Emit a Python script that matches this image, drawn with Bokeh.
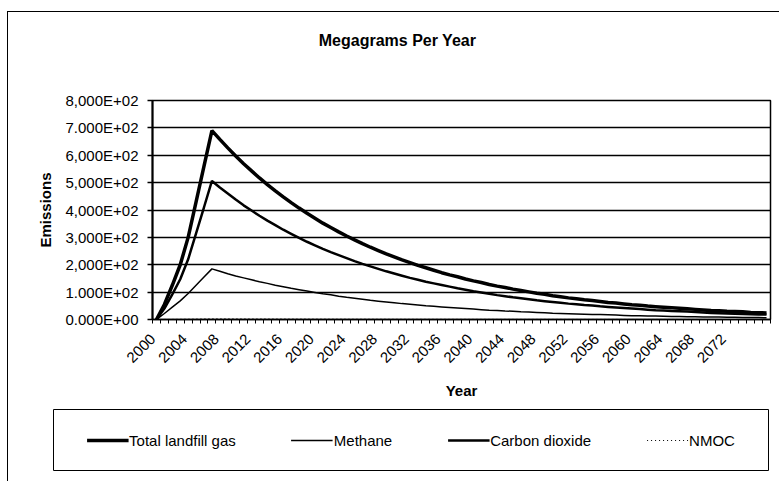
from bokeh.plotting import figure
from bokeh.models import FixedTicker, Legend, LegendItem, Range1d, ColumnDataSource, Label
from bokeh.layouts import column
from bokeh.embed import file_html
from bokeh.resources import INLINE
from math import pi

# ---------------- data ----------------
years = list(range(2000, 2078))

total_landfill_gas = [0, 55, 125, 200, 300, 430, 560, 690,
    658, 627, 597, 569, 543, 517, 493, 470, 448, 427,
    407, 388, 370, 352, 336, 320, 305, 291, 277, 264,
    252, 240, 229, 218, 208, 198, 189, 180, 171, 163,
    156, 148, 141, 135, 128, 122, 117, 111, 106, 101,
    96, 92, 87, 83, 79, 76, 72, 69, 66, 62,
    60, 57, 54, 52, 49, 47, 45, 43, 41, 39,
    37, 35, 33, 32, 30, 29, 28, 26, 25, 24]

methane = [0, 22, 45, 68, 95, 125, 155, 185,
    176, 167, 159, 152, 145, 138, 132, 125, 120, 114,
    109, 104, 99, 94, 90, 85, 81, 78, 74, 70,
    67, 64, 61, 58, 56, 53, 50, 48, 46, 44,
    42, 40, 38, 36, 34, 33, 31, 30, 28, 27,
    26, 25, 23, 22, 21, 20, 19, 18, 18, 17,
    16, 15, 14, 14, 13, 13, 12, 11, 11, 10,
    10, 9, 9, 9, 8, 8, 7, 7, 7, 6]

carbon_dioxide = [0, 40, 92, 147, 220, 315, 410, 506,
    482, 460, 438, 417, 398, 379, 361, 345, 328, 313,
    298, 284, 271, 258, 246, 235, 224, 213, 203, 194,
    185, 176, 168, 160, 152, 145, 138, 132, 126, 120,
    114, 109, 103, 99, 94, 89, 85, 81, 78, 74,
    70, 67, 64, 61, 58, 56, 53, 51, 48, 46,
    44, 42, 40, 38, 36, 34, 33, 31, 30, 29,
    27, 26, 24, 23, 22, 21, 20, 19, 18, 18]

nmoc = [0, 0.2, 0.5, 0.9, 1.3, 1.9, 2.4, 3.0,
    2.9, 2.8, 2.6, 2.5, 2.4, 2.3, 2.2, 2.1, 2.0, 1.9,
    1.8, 1.7, 1.6, 1.5, 1.5, 1.4, 1.3, 1.3, 1.2, 1.2,
    1.1, 1.1, 1.0, 1.0, 0.9, 0.9, 0.8, 0.8, 0.8, 0.7,
    0.7, 0.7, 0.6, 0.6, 0.6, 0.5, 0.5, 0.5, 0.5, 0.4,
    0.4, 0.4, 0.4, 0.4, 0.3, 0.3, 0.3, 0.3, 0.3, 0.3,
    0.3, 0.3, 0.2, 0.2, 0.2, 0.2, 0.2, 0.2, 0.2, 0.2,
    0.2, 0.2, 0.1, 0.1, 0.1, 0.1, 0.1, 0.1, 0.1, 0.1]

x_tick_years = [2000, 2004, 2008, 2012, 2016, 2020, 2024, 2028, 2032, 2036,
                2040, 2044, 2048, 2052, 2056, 2060, 2064, 2068, 2072]
y_ticks = [0, 100, 200, 300, 400, 500, 600, 700, 800]
y_tick_labels = ["0.000E+00", "1.000E+02", "2,000E+02", "3,000E+02", "4,000E+02",
                 "5,000E+02", "6,000E+02", "7.000E+02", "8,000E+02"]

title_text = "Megagrams Per Year"
x_title = "Year"
y_title = "Emissions"
series_names = ["Total landfill gas", "Methane", "Carbon dioxide", "NMOC"]

# ---------------- styles ----------------
FONT = "Liberation Sans"
styles_total = dict(line_color="black", line_width=3.5)
styles_ch4 = dict(line_color="black", line_width=1.5)
styles_co2 = dict(line_color="black", line_width=2.5)
styles_nmoc = dict(line_color="black", line_width=1, line_dash="1 3")
LABEL_SHIFT = 0.45  # rotated labels end slightly left of their category


def no_align(fig):
    if "frame_align" in fig.properties():
        fig.frame_align = False


src = ColumnDataSource(dict(year=years, total=total_landfill_gas, ch4=methane,
                            co2=carbon_dioxide, nmoc=nmoc))

# ---------------- title strip ----------------
tt = figure(width=771, height=58, output_backend="svg", toolbar_location=None,
            x_range=Range1d(0, 1), y_range=Range1d(0, 1),
            x_axis_type=None, y_axis_type=None,
            min_border_left=0, min_border_right=0, min_border_top=0, min_border_bottom=0)
no_align(tt)
tt.xgrid.visible = False
tt.ygrid.visible = False
tt.outline_line_color = None
tt.background_fill_color = "white"
tt.border_fill_color = "white"
tt.add_layout(Label(x=389, y=30, x_units="screen", y_units="screen", text=title_text,
                    text_align="center", text_baseline="middle", text_font=FONT,
                    text_font_size="16px", text_font_style="bold", text_color="black"))

# ---------------- main chart ----------------
p = figure(width=771, height=339, output_backend="svg", toolbar_location=None,
           x_range=Range1d(years[0] - 0.5, years[-1] + 0.5), y_range=Range1d(0, 800),
           min_border_left=144, min_border_right=9, min_border_top=30, min_border_bottom=90)
no_align(p)
p.background_fill_color = "white"
p.border_fill_color = "white"
p.outline_line_color = "black"
p.outline_line_width = 1.5

p.line("year", "total", source=src, **styles_total)
p.line("year", "ch4", source=src, **styles_ch4)
p.line("year", "co2", source=src, **styles_co2)
p.line("year", "nmoc", source=src, **styles_nmoc)

boundaries = [y - 0.5 for y in years] + [years[-1] + 0.5]
label_pos = [y - LABEL_SHIFT for y in x_tick_years]
p.xaxis.ticker = FixedTicker(ticks=label_pos, minor_ticks=boundaries)
p.xaxis.major_label_overrides = {pos: str(y) for pos, y in zip(label_pos, x_tick_years)}
p.xaxis.major_label_orientation = pi / 4
p.xaxis.major_tick_line_color = None
p.xaxis.major_tick_out = 4
p.xaxis.major_tick_in = 0
p.xaxis.minor_tick_line_color = "black"
p.xaxis.minor_tick_out = 4
p.xaxis.minor_tick_in = 0
p.xaxis.axis_line_color = "black"
p.xaxis.axis_line_width = 1.5
p.xaxis.major_label_text_font = FONT
p.xaxis.major_label_text_font_size = "15px"
p.xaxis.major_label_text_color = "black"
p.xaxis.major_label_standoff = 13
p.xaxis.axis_label = x_title
p.xaxis.axis_label_text_font = FONT
p.xaxis.axis_label_text_font_size = "15px"
p.xaxis.axis_label_text_font_style = "bold"
p.xaxis.axis_label_text_color = "black"
p.xaxis.axis_label_standoff = 12

p.yaxis.ticker = FixedTicker(ticks=y_ticks)
p.yaxis.major_label_overrides = dict(zip(y_ticks, y_tick_labels))
p.yaxis.major_tick_out = 5
p.yaxis.major_tick_in = 0
p.yaxis.minor_tick_line_color = None
p.yaxis.axis_line_color = "black"
p.yaxis.axis_line_width = 2
p.yaxis.major_tick_line_color = "black"
p.yaxis.major_tick_line_width = 1.5
p.yaxis.major_label_text_font = FONT
p.yaxis.major_label_text_font_size = "15px"
p.yaxis.major_label_text_color = "black"
p.yaxis.major_label_standoff = 9
p.yaxis.axis_label = y_title
p.yaxis.axis_label_text_font = FONT
p.yaxis.axis_label_text_font_size = "15px"
p.yaxis.axis_label_text_font_style = "bold"
p.yaxis.axis_label_text_color = "black"
p.yaxis.axis_label_standoff = 9

p.xgrid.grid_line_color = None
p.ygrid.grid_line_color = "black"
p.ygrid.grid_line_width = 1.5

# ---------------- legend strip ----------------
# the strip's ranges keep the series out of view; only the legend samples show
lg = figure(width=771, height=72, output_backend="svg", toolbar_location=None,
            x_range=Range1d(0, 1), y_range=Range1d(0, 1),
            x_axis_type=None, y_axis_type=None,
            min_border_left=45, min_border_right=11, min_border_top=0, min_border_bottom=11)
no_align(lg)
lg.xgrid.visible = False
lg.ygrid.visible = False
lg.background_fill_color = "white"
lg.border_fill_color = "white"
lg.outline_line_color = "black"
lg.outline_line_width = 1

l_total = lg.line("year", "total", source=src, **styles_total)
l_ch4 = lg.line("year", "ch4", source=src, **styles_ch4)
l_co2 = lg.line("year", "co2", source=src, **styles_co2)
l_nmoc = lg.line("year", "nmoc", source=src, **styles_nmoc)

legend = Legend(items=[LegendItem(label=series_names[0], renderers=[l_total]),
                       LegendItem(label=series_names[1], renderers=[l_ch4]),
                       LegendItem(label=series_names[2], renderers=[l_co2]),
                       LegendItem(label=series_names[3], renderers=[l_nmoc])],
                orientation="horizontal", location="center",
                border_line_color=None, background_fill_alpha=0,
                label_text_font=FONT, label_text_font_size="15px",
                label_text_color="black",
                glyph_width=42, glyph_height=17, label_height=17,
                label_standoff=1, spacing=55, padding=10)
lg.add_layout(legend)

layout = column(tt, p, lg, spacing=0,
                styles={"border-top": "1px solid black", "border-left": "1px solid black",
                        "margin-left": "7px", "margin-top": "11px"})

open("out.html", "w").write(file_html(layout, INLINE))
